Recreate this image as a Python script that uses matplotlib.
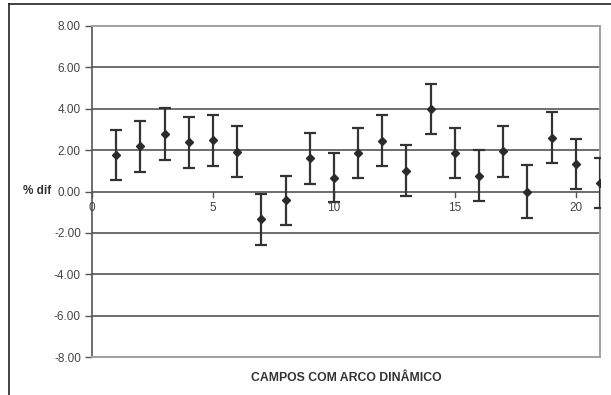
import matplotlib
matplotlib.use("Agg")
import matplotlib.pyplot as plt
from matplotlib.lines import Line2D

x = list(range(1, 22))
y = [1.78, 2.18, 2.78, 2.38, 2.47, 1.93, -1.35, -0.43, 1.61, 0.66, 1.86, 2.46,
     1.01, 3.97, 1.86, 0.76, 1.94, 0.00, 2.60, 1.33, 0.42]
err = [1.21, 1.22, 1.26, 1.23, 1.22, 1.22, 1.24, 1.18, 1.23, 1.18, 1.23, 1.23,
       1.22, 1.21, 1.22, 1.23, 1.22, 1.26, 1.23, 1.22, 1.21]
yticks = [-8, -6, -4, -2, 0, 2, 4, 6, 8]
xticks = [0, 5, 10, 15, 20]

plt.rcParams['font.family'] = ['Liberation Sans', 'DejaVu Sans']
fig = plt.figure(figsize=(6.11, 3.95), dpi=100)
fig.patch.set_facecolor('white')

# outer frame (top and left)
fig.add_artist(Line2D([8.5/611, 8.5/611], [0, 1 - 4/395], transform=fig.transFigure,
                      color='#222222', lw=1.2))
fig.add_artist(Line2D([8.5/611, 1], [1 - 4/395, 1 - 4/395], transform=fig.transFigure,
                      color='#222222', lw=1.2))

ax = fig.add_axes([92/611, 38/395, (600-92)/611, (357-26)/395])
ax.set_xlim(0, 21)
ax.set_ylim(-8, 8)

for v in yticks[1:-1]:
    ax.axhline(v, color='#555555', lw=1.2, zorder=1)

ax.errorbar(x, y, yerr=err, fmt='D', color='#2a2a2a', ecolor='#333333',
            markersize=4.5, elinewidth=1.6, capsize=4, capthick=1.6, zorder=3,
            clip_on=True)

for s in ['top', 'right', 'bottom']:
    ax.spines[s].set_color('#a0a0a0')
    ax.spines[s].set_linewidth(1.4)
ax.spines['left'].set_color('#555555')
ax.spines['left'].set_linewidth(1.2)

ax.set_yticks(yticks)
ax.set_yticklabels([f"{v:.2f}" for v in yticks], fontsize=8.5, color='#444444')
ax.tick_params(axis='y', direction='out', length=5, width=1, color='#555555', pad=3)

ax.set_xticks([])
for v in xticks:
    ax.plot([v, v], [-0.25, 0.0], color='#555555', lw=1, zorder=2, clip_on=False)
    ax.text(v, -0.5, str(v), ha='center', va='top', fontsize=8.5, color='#444444')

ax.text(-0.108, 0.5, '% dif', transform=ax.transAxes, ha='center', va='center',
        fontsize=8.5, fontweight='bold', color='#333333')
ax.text(0.5, -0.062, 'CAMPOS COM ARCO DINÂMICO', transform=ax.transAxes,
        ha='center', va='center', fontsize=8.8, fontweight='bold', color='#333333')

fig.savefig('out.png', dpi=100)
